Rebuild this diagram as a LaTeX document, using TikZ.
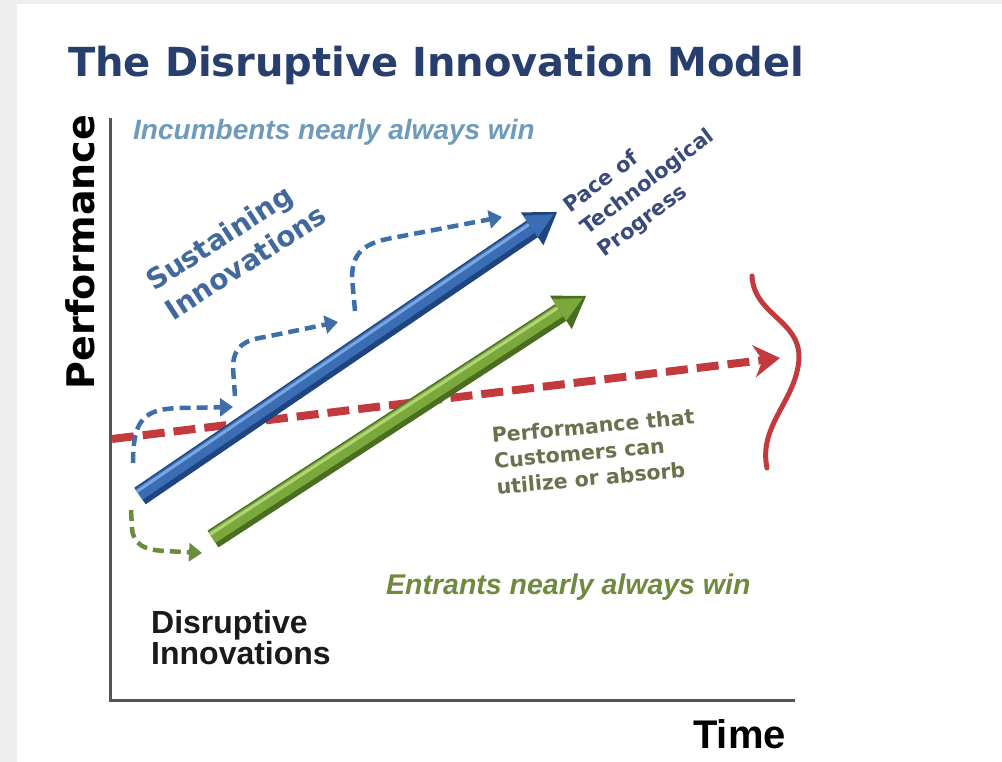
\documentclass[tikz,border=0pt]{standalone}
\usepackage{fontspec}
\setmainfont{Liberation Sans}
\newfontfamily\dvs{DejaVu Sans}
\usetikzlibrary{arrows.meta,calc}
\definecolor{titlec}{HTML}{283F6E}
\definecolor{incc}{HTML}{6F9BBB}
\definecolor{susc}{HTML}{42699C}
\definecolor{pacec}{HTML}{3A4A7A}
\definecolor{bdashc}{HTML}{3E6FA6}
\definecolor{bdark}{HTML}{1F4580}
\definecolor{bmid}{HTML}{3B6DB5}
\definecolor{blight}{HTML}{7AA6E0}
\definecolor{gdark}{HTML}{4A6E1F}
\definecolor{gmid}{HTML}{7AA83A}
\definecolor{glight}{HTML}{B2D478}
\definecolor{gdashc}{HTML}{6B8C3A}
\definecolor{redc}{HTML}{C23A3E}
\definecolor{entc}{HTML}{6F8A3E}
\definecolor{custc}{HTML}{6D704C}
\definecolor{disc}{HTML}{1A1A1A}
\definecolor{axisc}{HTML}{555555}
\definecolor{framec}{HTML}{EEEEEE}
\newcommand\tubearrow[5]{%
  \coordinate (#1hb) at ($(#2)!30pt!(#1)$);
  \draw[line width=20pt,#3] (#1) -- (#1hb);
  \draw[line width=13pt,#4] ($(#1)!2pt!90:(#2)$) -- ($(#1hb)!2pt!-90:(#1)$);
  \draw[line width=3pt,#5] ($(#1)!5.5pt!90:(#2)$) -- ($(#1hb)!5.5pt!-90:(#1)$);
  \fill[#3] (#2) -- ($(#1hb)!20pt!90:(#2)$) -- ($(#1hb)!20pt!-90:(#2)$) -- cycle;
  \fill[#4] ($(#2)!4pt!(#1hb)$) -- ($(#1hb)!16pt!90:(#2)$) -- ($(#1hb)!10pt!-90:(#2)$) -- cycle;
}
\tikzset{
  axisline/.style={draw=axisc, line width=3pt},
  bdash/.style={draw=bdashc, line width=4.5pt, dash pattern=on 11pt off 6pt, -{Triangle[length=13pt,width=18pt]}},
  gdash/.style={draw=gdashc, line width=4.5pt, dash pattern=on 11pt off 6pt, -{Triangle[length=13pt,width=18pt]}},
  rdash/.style={draw=redc, line width=8pt, dash pattern=on 22pt off 9pt, -{Stealth[length=26pt,width=32pt]}},
  lbl/.style={inner sep=0pt}
}
\begin{document}
\begin{tikzpicture}[x=1pt,y=-1pt]
\useasboundingbox (0,0) rectangle (1002,762);
\fill[framec] (0,0) rectangle (1002,762);
\fill[white] (17,4) rectangle (1002,762);

% title and labels
\node[lbl, anchor=base west, text=titlec, font=\dvs\bfseries\fontsize{40}{48}\selectfont] (title) at (68,77) {The Disruptive Innovation Model};
\node[lbl, rotate=90, font=\dvs\bfseries\fontsize{38}{46}\selectfont] (perf) at (80,252) {Performance};
\node[lbl, anchor=base east, font=\bfseries\fontsize{40}{48}\selectfont] (time) at (786,748) {Time};
\node[lbl, anchor=base west, text=incc, font=\bfseries\itshape\fontsize{28}{34}\selectfont] (inc) at (133,140) {Incumbents nearly always win};
\node[lbl, anchor=base west, text=entc, font=\bfseries\itshape\fontsize{28.5}{34}\selectfont] (ent) at (386,594) {Entrants nearly always win};
\node[lbl, anchor=north west, align=left, text=disc, font=\bfseries\fontsize{32}{29}\selectfont] (dis) at (151,610) {Disruptive\\Innovations};
\node[lbl, rotate=33, anchor=west, align=left, text=susc, font=\dvs\bfseries\fontsize{28}{35}\selectfont] (sus) at (158,298) {Sustaining\\Innovations};
\node[lbl, rotate=37, anchor=west, align=left, text=pacec, font=\dvs\bfseries\fontsize{21}{28}\selectfont] (pace) at (584,231) {Pace of\\Technological\\Progress};
\node[lbl, rotate=5.3, anchor=west, align=left, text=custc, font=\dvs\bfseries\fontsize{20.5}{26}\selectfont] (cust) at (494,461) {Performance that\\Customers can\\utilize or absorb};

% axes
\coordinate (ytop) at (110,118);
\coordinate (origin) at (110,700);
\coordinate (xend) at (795,700);
\draw[axisline] (ytop) -- (origin) -- (xend);

% customer performance line and brace
\coordinate (r0) at (112,439);
\coordinate (r1) at (780,358);
\draw[rdash] (r0) -- (r1);
\coordinate (br1) at (752,276);
\coordinate (br2) at (799,358);
\coordinate (br3) at (767,468);
\draw[redc, line width=5pt, line cap=round] (br1) .. controls (754,315) and (800,320) .. (br2) .. controls (797,400) and (758,425) .. (br3);

% technology arrows
\coordinate (btail) at (140,496);
\coordinate (btip) at (557,212);
\tubearrow{btail}{btip}{bdark}{bmid}{blight}
\coordinate (gtail) at (213,539);
\coordinate (gtip) at (586,296);
\tubearrow{gtail}{gtip}{gdark}{gmid}{glight}

% sustaining innovation steps
\coordinate (s1a) at (133,463);
\coordinate (s1b) at (233,407);
\draw[bdash] (s1a) .. controls (133,418) and (145,409) .. (180,408) -- (s1b);
\coordinate (s2a) at (235,396);
\coordinate (s2b) at (338,322);
\draw[bdash] (s2a) -- (233,368) .. controls (233,346) and (245,340) .. (265,337) -- (s2b);
\coordinate (s3a) at (355,311);
\coordinate (s3b) at (502,217);
\draw[bdash] (s3a) -- (352,278) .. controls (352,252) and (365,243) .. (392,238) -- (s3b);

% disruptive step
\coordinate (g0a) at (131,510);
\coordinate (g0b) at (202,553);
\draw[gdash] (g0a) -- (132,528) .. controls (133,545) and (145,550) .. (165,551) -- (g0b);
\end{tikzpicture}
\end{document}
